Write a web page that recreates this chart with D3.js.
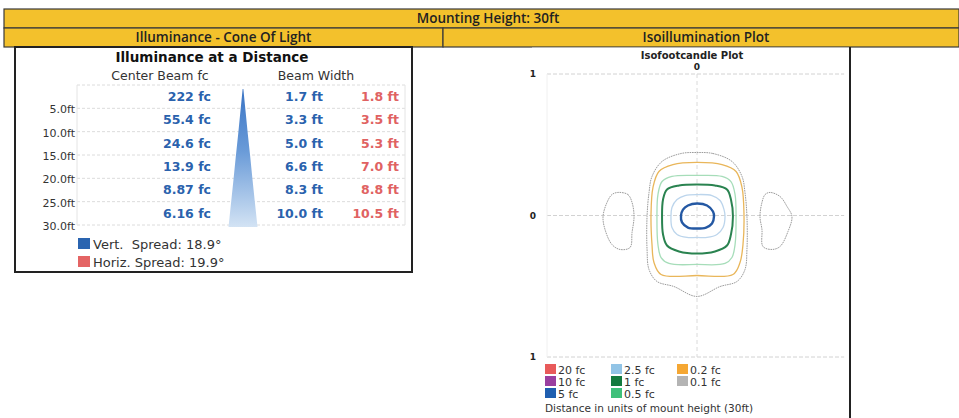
<!DOCTYPE html>
<html><head><meta charset="utf-8">
<script src="https://cdn.jsdelivr.net/npm/d3@7"></script>
<style>
html,body{margin:0;padding:0;background:#fff;}
svg{display:block;}
</style></head>
<body>
<svg id="chart" width="959" height="418"></svg>
<script>
// ---------- DATA ----------
const headerTitle = "Mounting Height: 30ft";
const sectionTitles = ["Illuminance - Cone Of Light", "Isoillumination Plot"];

const distances = [5, 10, 15, 20, 25, 30];
const distLabels = ["5.0ft", "10.0ft", "15.0ft", "20.0ft", "25.0ft", "30.0ft"];
const centerBeamFc = ["222", "55.4", "24.6", "13.9", "8.87", "6.16"];
const vertBeamWidth = [1.7, 3.3, 5.0, 6.6, 8.3, 10.0];
const horizBeamWidth = [1.8, 3.5, 5.3, 7.0, 8.8, 10.5];
const spreadLabels = ["Vert.  Spread: 18.9°", "Horiz. Spread: 19.9°"];
const spreadColors = ["#2a64b0", "#e46464"];

const isoLevels = ["20 fc", "10 fc", "5 fc", "2.5 fc", "1 fc", "0.5 fc", "0.2 fc", "0.1 fc"];
const isoColors = ["#e85a5a", "#9a3fa0", "#1f5fb0", "#92c4e6", "#137a3e", "#3fc07a", "#f5a733", "#b4b4b4"];

// contours, in units of mount height [x, y]
const contour01Main = [[0,0.445],[0.113,0.438],[0.247,0.382],[0.318,0.276],[0.339,0.163],[0.353,-0.007],[0.353,-0.24],[0.339,-0.382],[0.283,-0.466],[0.163,-0.502],[0,-0.572],[-0.163,-0.502],[-0.283,-0.466],[-0.339,-0.382],[-0.353,-0.24],[-0.353,-0.007],[-0.339,0.163],[-0.318,0.276],[-0.247,0.382],[-0.113,0.438]];
const contour01Left = [[-0.558,0.163],[-0.488,0.148],[-0.459,0.092],[-0.445,-0.007],[-0.459,-0.12],[-0.473,-0.226],[-0.544,-0.24],[-0.601,-0.205],[-0.65,-0.099],[-0.664,-0.007],[-0.636,0.092],[-0.601,0.148]];
const contour01Right = [[0.516,0.163],[0.587,0.134],[0.636,0.064],[0.671,-0.007],[0.643,-0.113],[0.587,-0.219],[0.53,-0.24],[0.466,-0.219],[0.459,-0.099],[0.445,-0.007],[0.459,0.092],[0.481,0.148]];
const contour02 = [[0,0.375],[0.177,0.36],[0.276,0.311],[0.318,0.198],[0.332,0.007],[0.325,-0.205],[0.304,-0.332],[0.254,-0.417],[0,-0.424],[-0.254,-0.417],[-0.304,-0.332],[-0.318,-0.205],[-0.325,0.007],[-0.311,0.198],[-0.269,0.311],[-0.17,0.36]];
const contour05 = [[0,0.283],[0.177,0.276],[0.24,0.24],[0.269,0.148],[0.276,-0.007],[0.269,-0.205],[0.247,-0.297],[0.198,-0.339],[0,-0.346],[-0.198,-0.339],[-0.254,-0.297],[-0.276,-0.205],[-0.283,-0.007],[-0.276,0.148],[-0.247,0.24],[-0.177,0.276]];
const contour1 = [[0,0.219],[0.127,0.212],[0.212,0.184],[0.24,0.113],[0.254,-0.007],[0.24,-0.134],[0.212,-0.212],[0.127,-0.254],[0,-0.269],[-0.127,-0.254],[-0.212,-0.212],[-0.24,-0.134],[-0.247,-0.007],[-0.24,0.113],[-0.212,0.184],[-0.127,0.212]];
const contour25 = [[0,0.148],[0.106,0.141],[0.163,0.106],[0.191,0.042],[0.198,-0.007],[0.184,-0.085],[0.141,-0.134],[0.071,-0.155],[0,-0.155],[-0.071,-0.155],[-0.141,-0.134],[-0.177,-0.085],[-0.184,-0.007],[-0.177,0.057],[-0.141,0.113],[-0.085,0.141]];
const contour5 = [[0,0.085],[0.071,0.071],[0.113,0.028],[0.12,-0.007],[0.106,-0.057],[0.064,-0.085],[0,-0.092],[-0.064,-0.085],[-0.106,-0.049],[-0.113,0],[-0.099,0.042],[-0.064,0.071]];

// ---------- DRAW ----------
const svg = d3.select("#chart");
const YELLOW = "#f3c12c";
const HFONT = "'Open Sans', Lato, sans-serif";
const VFONT = "'DejaVu Sans', Verdana, sans-serif";

// header rows
svg.append("rect").attr("x",4).attr("y",9).attr("width",955).attr("height",19)
  .attr("fill",YELLOW).attr("stroke","#3a3a3a").attr("stroke-width",1.2);
svg.append("text").attr("x",488).attr("y",23).attr("text-anchor","middle")
  .attr("font-family",HFONT).attr("font-weight",600).attr("font-size",13.5).attr("fill","#222").text(headerTitle);
const secX = [[4,443],[443,959]];
secX.forEach((s,i)=>{
  svg.append("rect").attr("x",s[0]).attr("y",28).attr("width",s[1]-s[0]).attr("height",19)
    .attr("fill",YELLOW).attr("stroke","#3a3a3a").attr("stroke-width",1.2);
  svg.append("text").attr("x",(s[0]+s[1])/2+ (i?5:0)).attr("y",42).attr("text-anchor","middle")
    .attr("font-family",HFONT).attr("font-weight",600).attr("font-size",13.5).attr("fill","#222").text(sectionTitles[i]);
});

// ---------- LEFT PANEL ----------
svg.append("rect").attr("x",15).attr("y",47).attr("width",397).attr("height",225)
  .attr("fill","#fff").attr("stroke","#222").attr("stroke-width",2);

svg.append("text").attr("x",212).attr("y",62).attr("text-anchor","middle")
  .attr("font-family",VFONT).attr("font-weight","bold").attr("font-size",13.5).attr("fill","#111")
  .text("Illuminance at a Distance");
svg.append("text").attr("x",160).attr("y",80).attr("text-anchor","middle")
  .attr("font-family",VFONT).attr("font-size",12.5).attr("fill","#333").text("Center Beam fc");
svg.append("text").attr("x",316).attr("y",80).attr("text-anchor","middle")
  .attr("font-family",VFONT).attr("font-size",12.5).attr("fill","#333").text("Beam Width");

const yDist = d3.scaleLinear().domain([0,30]).range([85,225]);
const gridL = svg.append("g");
[0].concat(distances).forEach(d=>{
  gridL.append("line").attr("x1",77).attr("x2",405).attr("y1",yDist(d)).attr("y2",yDist(d))
    .attr("stroke","#dcdcdc").attr("stroke-width",1).attr("stroke-dasharray","3,2");
});
gridL.append("line").attr("x1",77).attr("x2",77).attr("y1",yDist(0)).attr("y2",yDist(30)).attr("stroke","#e4e4e4");
gridL.append("line").attr("x1",405).attr("x2",405).attr("y1",yDist(0)).attr("y2",yDist(30)).attr("stroke","#e4e4e4");

// y axis labels
svg.append("g").selectAll("text").data(distances).join("text")
  .attr("x",75).attr("y",d=>yDist(d)+5).attr("text-anchor","end")
  .attr("font-family",VFONT).attr("font-size",11).attr("fill","#333")
  .text((d,i)=>distLabels[i]);

// cone
const xCone = d3.scaleLinear().domain([-5,5]).range([228.5,257.5]);
const defs = svg.append("defs");
const grad = defs.append("linearGradient").attr("id","coneGrad").attr("x1",0).attr("y1",0).attr("x2",0).attr("y2",1);
grad.append("stop").attr("offset","0%").attr("stop-color","#3a74c4");
grad.append("stop").attr("offset","45%").attr("stop-color","#6a9bd8");
grad.append("stop").attr("offset","100%").attr("stop-color","#d3e3f4");
const coneD = [0].concat(distances), coneW = [0.25].concat(vertBeamWidth);
const conePts = coneD.map((d,i)=>[xCone(coneW[i]/2), yDist(d)+ (i===0?4:2)])
  .concat(coneD.slice().reverse().map((d,j)=>{const i=coneD.length-1-j; return [xCone(-coneW[i]/2), yDist(d)+(i===0?4:2)];}));
svg.append("path").attr("d", d3.line()(conePts)+"Z").attr("fill","url(#coneGrad)");

// values
const rowY = d => yDist(d) - 7.5;
svg.append("g").selectAll("text").data(distances).join("text")
  .attr("x",211).attr("y",rowY).attr("text-anchor","end")
  .attr("font-family",VFONT).attr("font-weight","bold").attr("font-size",12.5).attr("fill","#2a62ad")
  .text((d,i)=>centerBeamFc[i]+" fc");
svg.append("g").selectAll("text").data(distances).join("text")
  .attr("x",323).attr("y",rowY).attr("text-anchor","end")
  .attr("font-family",VFONT).attr("font-weight","bold").attr("font-size",12.5).attr("fill","#2a62ad")
  .text((d,i)=>vertBeamWidth[i].toFixed(1)+" ft");
svg.append("g").selectAll("text").data(distances).join("text")
  .attr("x",399).attr("y",rowY).attr("text-anchor","end")
  .attr("font-family",VFONT).attr("font-weight","bold").attr("font-size",12.5).attr("fill","#e06262")
  .text((d,i)=>horizBeamWidth[i].toFixed(1)+" ft");

// spread legend
spreadLabels.forEach((t,i)=>{
  const y = 238 + i*18;
  svg.append("rect").attr("x",78).attr("y",y).attr("width",12).attr("height",11).attr("fill",spreadColors[i]);
  svg.append("text").attr("x",93).attr("y",y+10.5).attr("font-family",VFONT).attr("font-size",13)
    .attr("fill","#333").attr("xml:space","preserve").style("white-space","pre").text(t);
});

// ---------- RIGHT PANEL ----------
svg.append("rect").attr("x",532).attr("y",47.6).attr("width",318).attr("height",372).attr("fill","#fff");
svg.append("line").attr("x1",850).attr("x2",850).attr("y1",47).attr("y2",418).attr("stroke","#222").attr("stroke-width",2);

svg.append("text").attr("x",692).attr("y",59).attr("text-anchor","middle")
  .attr("font-family",VFONT).attr("font-weight","bold").attr("font-size",10).attr("fill","#222").text("Isofootcandle Plot");

const xIso = d3.scaleLinear().domain([-1.06,1.06]).range([547,847]);
const yIso = d3.scaleLinear().domain([-1,1]).range([357,74]);

const gI = svg.append("g");
[1,0,-1].forEach(v=>{
  gI.append("line").attr("x1",xIso(-1.06)).attr("x2",xIso(1.04)).attr("y1",yIso(v)).attr("y2",yIso(v))
    .attr("stroke","#d2d2d2").attr("stroke-dasharray","4,2");
});
gI.append("line").attr("x1",xIso(0)).attr("x2",xIso(0)).attr("y1",yIso(1)).attr("y2",yIso(-1))
  .attr("stroke","#dadada").attr("stroke-dasharray","4,3");
gI.append("line").attr("x1",xIso(-1.06)).attr("x2",xIso(-1.06)).attr("y1",yIso(1)).attr("y2",yIso(-1))
  .attr("stroke","#f0f0f0");

const axisLab = [[-1.16,1,"1"],[-1.16,0,"0"],[-1.16,-1,"1"],[0,1.05,"0"]];
axisLab.forEach(a=>{
  svg.append("text").attr("x",xIso(a[0])).attr("y",yIso(a[1])+3).attr("text-anchor","middle")
    .attr("font-family",VFONT).attr("font-weight","bold").attr("font-size",9).attr("fill","#222").text(a[2]);
});

const lineGen = d3.line().x(d=>xIso(d[0])).y(d=>yIso(d[1])).curve(d3.curveCatmullRomClosed.alpha(0.5));
const contours = [
  {pts:contour01Main, c:"#9c9c9c", w:1, dash:"1.6,0.8"},
  {pts:contour01Left, c:"#9c9c9c", w:1, dash:"1.6,0.8"},
  {pts:contour01Right, c:"#9c9c9c", w:1, dash:"1.6,0.8"},
  {pts:contour02, c:"#e9b65a", w:1.3, dash:null},
  {pts:contour05, c:"#a6ddb9", w:1.3, dash:null},
  {pts:contour1, c:"#2a8350", w:2, dash:null},
  {pts:contour25, c:"#bcd5ec", w:1.3, dash:null},
  {pts:contour5, c:"#2458a3", w:2.4, dash:null}
];
svg.append("g").selectAll("path").data(contours).join("path")
  .attr("d",d=>lineGen(d.pts)).attr("fill","none").attr("stroke",d=>d.c)
  .attr("stroke-width",d=>d.w).attr("stroke-dasharray",d=>d.dash);

// legend
const legColX = [545, 611, 677];
isoLevels.forEach((t,i)=>{
  const col = Math.floor(i/3), row = i%3;
  const x = legColX[col], y = 364 + row*12;
  svg.append("rect").attr("x",x).attr("y",y).attr("width",11).attr("height",10).attr("fill",isoColors[i]);
  svg.append("text").attr("x",x+13).attr("y",y+9.5).attr("font-family",VFONT).attr("font-size",11)
    .attr("fill","#333").text(t);
});
svg.append("text").attr("x",545).attr("y",412).attr("font-family",VFONT).attr("font-size",10.5)
  .attr("fill","#333").text("Distance in units of mount height (30ft)");
</script>
</body></html>
